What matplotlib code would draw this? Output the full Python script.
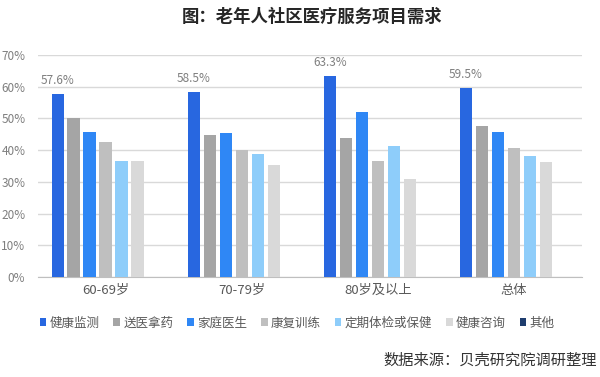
import numpy as np
import matplotlib
matplotlib.use("Agg")
import matplotlib.pyplot as plt

plt.rcParams['font.family'] = ['Noto Sans CJK SC', 'DejaVu Sans']

groups = ['60-69岁', '70-79岁', '80岁及以上', '总体']
series = ['健康监测', '送医拿药', '家庭医生', '康复训练', '定期体检或保健', '健康咨询', '其他']
colors = ['#2867e0', '#a5a5a5', '#2f87f5', '#bfbfbf', '#8ecdfa', '#d9d9d9', '#1f3d6e']

# values in %, one list per series (across groups)
jiankang_jiance = [57.6, 58.5, 63.3, 59.5]
songyi_nayao = [50.3, 44.9, 43.8, 47.7]
jiating_yisheng = [45.8, 45.4, 52.0, 45.8]
kangfu_xunlian = [42.7, 40.0, 36.7, 40.7]
dingqi_tijian = [36.7, 38.9, 41.3, 38.3]
jiankang_zixun = [36.7, 35.3, 31.0, 36.3]
qita = [0.0, 0.0, 0.0, 0.0]
values = [jiankang_jiance, songyi_nayao, jiating_yisheng, kangfu_xunlian,
          dingqi_tijian, jiankang_zixun, qita]

yticks = [0, 10, 20, 30, 40, 50, 60, 70]

fig = plt.figure(figsize=(6.0, 3.77), dpi=100)
ax = fig.add_axes([0.063, 0.265, 0.907, 0.589])

x = np.arange(len(groups))
pitch = 0.1176
width = 0.093
for j, (name, vals) in enumerate(zip(series, values)):
    pos = x + (j - 3) * pitch
    ax.bar(pos, np.array(vals) / 100, width=width, color=colors[j], label=name, zorder=3)
    if j == 0:  # only the first series is labelled
        for px, v in zip(pos, vals):
            ax.text(px, v / 100 + 0.022, f'{v:.1f}%', ha='center', va='bottom',
                    fontsize=8.5, color='#7f7f7f')

ax.set_xlim(-0.5, 3.5)
ax.set_ylim(0, 0.70)
ax.set_yticks([t / 100 for t in yticks])
ax.set_yticklabels([f'{t}%' for t in yticks])
ax.set_xticks(x)
ax.set_xticklabels(groups)
ax.tick_params(axis='y', length=0, pad=9, labelsize=8.5, labelcolor='#7f7f7f')
ax.tick_params(axis='x', length=0, pad=5, labelsize=9.5, labelcolor='#595959')
ax.grid(axis='y', color='#d9d9d9', linewidth=1, zorder=0)
for s in ['top', 'right', 'left']:
    ax.spines[s].set_visible(False)
ax.spines['bottom'].set_color('#bfbfbf')

fig.legend(loc='center', bbox_to_anchor=(0.495, 0.143), ncol=7, frameon=False,
           fontsize=9, labelcolor='#595959', handlelength=0.55, handleheight=0.55,
           handletextpad=0.25, columnspacing=1.1)

fig.text(0.52, 0.955, '图：老年人社区医疗服务项目需求', ha='center', va='center',
         fontsize=12.5, fontweight='bold', color='#262626')
fig.text(0.995, 0.045, '数据来源：贝壳研究院调研整理', ha='right', va='center',
         fontsize=11, color='#333333')

fig.savefig('out.png', dpi=100)
